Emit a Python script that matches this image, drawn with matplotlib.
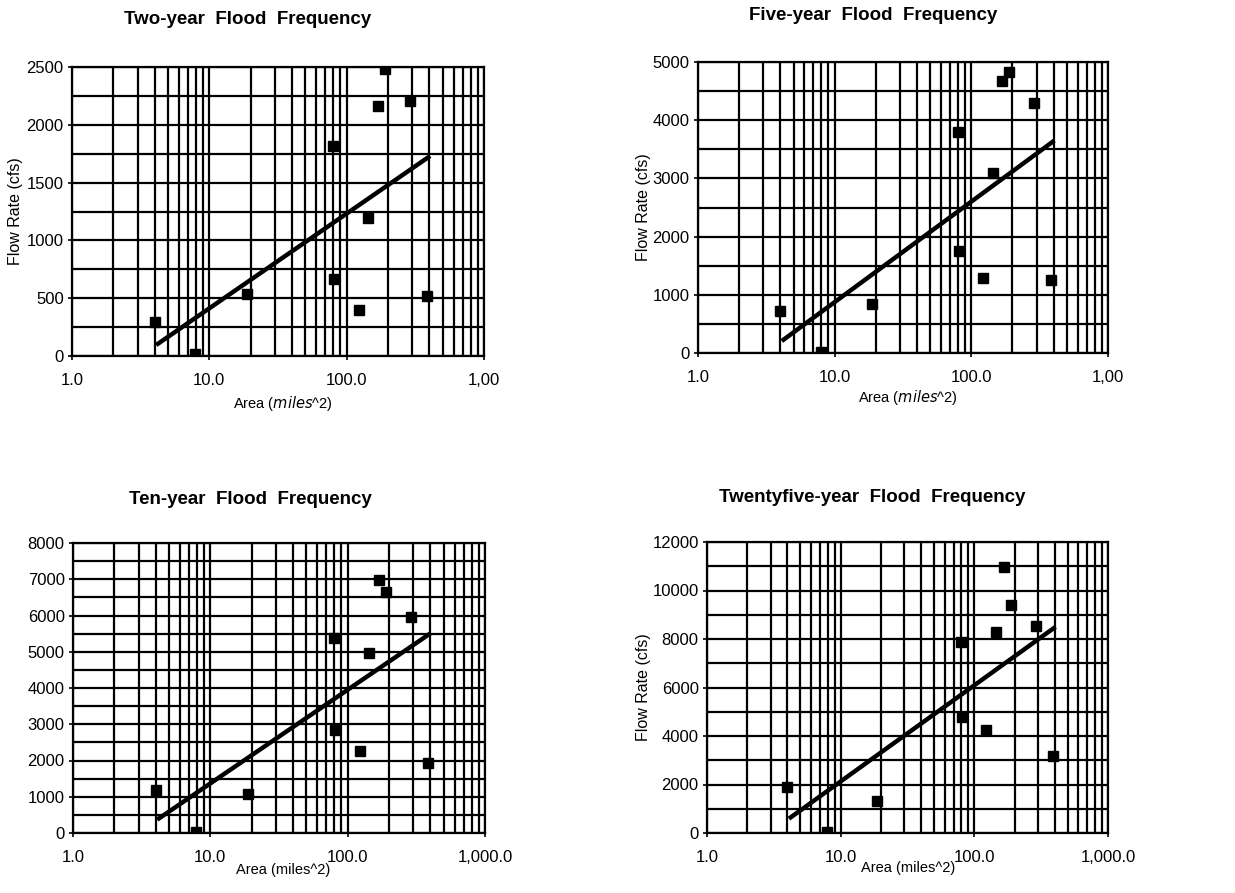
import matplotlib
matplotlib.use("Agg")
import matplotlib.pyplot as plt
from matplotlib.ticker import FixedLocator

plt.rcParams['font.family'] = ['Liberation Sans', 'DejaVu Sans']

# station drainage areas (miles^2), shared by all four panels
area = [4.0, 7.9, 18.8, 80.0, 81.0, 122.0, 144.0, 168.0, 189.0, 287.0, 385.0]

flow_2yr = [290, 15, 540, 1820, 670, 400, 1190, 2160, 2480, 2210, 520]
flow_5yr = [730, 20, 850, 3800, 1750, 1290, 3100, 4680, 4820, 4300, 1250]
flow_10yr = [1180, 30, 1080, 5380, 2830, 2270, 4970, 6990, 6650, 5960, 1930]
flow_25yr = [1880, 30, 1330, 7860, 4780, 4260, 8290, 10960, 9420, 8520, 3190]

# trend line end points
trend_x = [4.1, 405.0]
trend_2yr = [95, 1730]
trend_5yr = [206, 3650]
trend_10yr = [368, 5520]
trend_25yr = [591, 8500]

titles = ["Two-year  Flood  Frequency", "Five-year  Flood  Frequency",
          "Ten-year  Flood  Frequency", "Twentyfive-year  Flood  Frequency"]
x_ticklabels_top = ["1.0", "10.0", "100.0", "1,00"]
x_ticklabels_bottom = ["1.0", "10.0", "100.0", "1,000.0"]

W, H = 1235, 893
fig = plt.figure(figsize=(W / 100, H / 100), dpi=100)


def box(left, top, right, bottom):
    return [left / W, 1 - bottom / H, (right - left) / W, (bottom - top) / H]


panels = [
    dict(rect=box(72, 67, 484, 356), flow=flow_2yr, trend=trend_2yr, ymax=2500,
         ystep=500, ygrid=250, xlabels=x_ticklabels_top, ylabel=-0.118,
         title_xy=(248, 20), xlab_xy=(283, 403), italic=True),
    dict(rect=box(698, 62, 1108, 353), flow=flow_5yr, trend=trend_5yr, ymax=5000,
         ystep=1000, ygrid=500, xlabels=x_ticklabels_top, ylabel=-0.115,
         title_xy=(873, 16), xlab_xy=(908, 398), italic=True),
    dict(rect=box(73, 543, 485, 833), flow=flow_10yr, trend=trend_10yr, ymax=8000,
         ystep=1000, ygrid=500, xlabels=x_ticklabels_bottom, ylabel=None,
         title_xy=(250, 499), xlab_xy=(283, 870), italic=False),
    dict(rect=box(707, 542, 1108, 833), flow=flow_25yr, trend=trend_25yr, ymax=12000,
         ystep=2000, ygrid=1000, xlabels=x_ticklabels_bottom, ylabel=-0.14,
         title_xy=(872, 497), xlab_xy=(908, 868), italic=False),
]

xgrid = [m * 10 ** e for e in range(3) for m in range(1, 10)] + [1000]

for p, title in zip(panels, titles):
    ax = fig.add_axes(p["rect"])
    ax.set_xscale("log")
    ax.set_xlim(1, 1000)
    ax.set_ylim(0, p["ymax"])

    for gx in xgrid:
        ax.axvline(gx, color="black", lw=1.6, zorder=1)
    for gy in range(0, p["ymax"] + 1, p["ygrid"]):
        ax.axhline(gy, color="black", lw=1.6, zorder=1)

    ax.plot(area, p["flow"], "s", color="black", ms=6.5, zorder=3)
    ax.plot(trend_x, p["trend"], "-", color="black", lw=3.2, zorder=4,
            solid_capstyle="butt")

    ax.xaxis.set_major_locator(FixedLocator([1, 10, 100, 1000]))
    ax.xaxis.set_minor_locator(FixedLocator([]))
    ax.set_xticklabels(p["xlabels"])
    ax.set_yticks(range(0, p["ymax"] + 1, p["ystep"]))
    ax.tick_params(axis="both", labelsize=12, length=3, width=1.2, direction="out")
    ax.tick_params(axis="x", pad=9)
    ax.tick_params(axis="y", pad=3)
    for s in ax.spines.values():
        s.set_linewidth(1.6)

    if p["ylabel"] is not None:
        ax.set_ylabel("Flow Rate (cfs)", fontsize=11.5)
        ax.yaxis.set_label_coords(p["ylabel"], 0.5)

    tx, ty = p["title_xy"]
    fig.text(tx / W, 1 - ty / H, title, ha="center", va="center",
             fontsize=13.5, fontweight="bold")
    lx, ly = p["xlab_xy"]
    if p["italic"]:
        fig.text(lx / W, 1 - ly / H, "Area ($\\it{miles}$^2)", ha="center",
                 va="center", fontsize=10.5)
    else:
        fig.text(lx / W, 1 - ly / H, "Area (miles^2)", ha="center",
                 va="center", fontsize=10.5)

fig.savefig("out.png", dpi=100)
